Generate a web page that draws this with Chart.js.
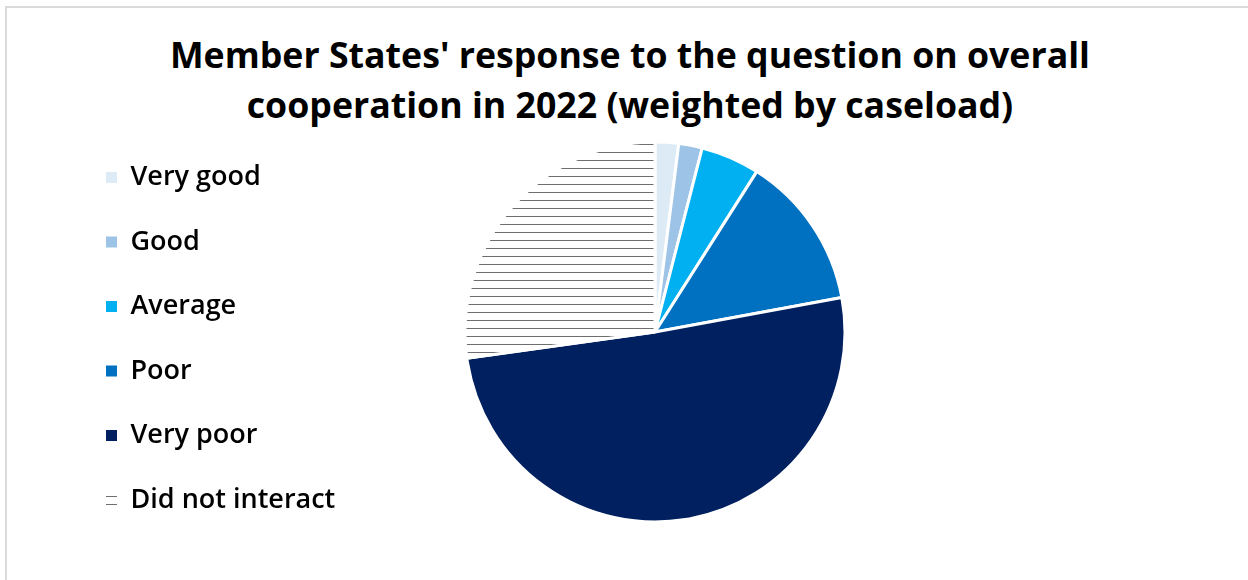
<!DOCTYPE html>
<html>
<head>
<meta charset="utf-8">
<script src="https://cdn.jsdelivr.net/npm/chart.js@4/dist/chart.umd.min.js"></script>
<style>
  html, body { margin: 0; padding: 0; background: #fff; }
  #wrap { position: relative; width: 1248px; height: 580px; overflow: hidden; }
  #frame { position: absolute; left: 5px; top: 6px; right: 0; bottom: 0; border-top: 2px solid #dadada; border-left: 2px solid #dadada; }
  #title { position: absolute; left: 12px; top: 28.7px; width: 1236px; margin: 0; text-align: center;
           font: bold 35.7px/50px "Open Sans", sans-serif; color: #000; }
  #pie { position: absolute; left: 0; top: 0; }
</style>
</head>
<body>
<div id="wrap">
  <div id="frame"></div>
  <h1 id="title"></h1>
  <canvas id="pie" width="1248" height="580"></canvas>
</div>
<script>
const titleLines = ["Member States' response to the question on overall", 'cooperation in 2022 (weighted by caseload)'];
const answers = ['Very good', 'Good', 'Average', 'Poor', 'Very poor', 'Did not interact'];
// share of caseload, %
const shares = [2.0, 2.0, 5.0, 13.1, 50.7, 27.2];
const sliceColours = ['#ddebf7', '#9dc3e6', '#00b0f0', '#0070c0', '#002060'];

document.getElementById('title').innerHTML = titleLines.join('<br>');

const canvas = document.getElementById('pie');
const ctx = canvas.getContext('2d');

// white tile with one grey line -> horizontal hatch for "Did not interact"
function hatch() {
  const tile = document.createElement('canvas');
  tile.width = 8;
  tile.height = 8;
  const g = tile.getContext('2d');
  g.fillStyle = '#ffffff';
  g.fillRect(0, 0, 8, 8);
  g.fillStyle = '#6e6e6e';
  g.fillRect(0, 0, 8, 1);
  return ctx.createPattern(tile, 'repeat');
}

const baseLabels = Chart.overrides.doughnut.plugins.legend.labels.generateLabels;
const padLeft = 68.5;
const pieCentreX = 655;

const chart = new Chart(ctx, {
  type: 'pie',
  data: {
    labels: answers,
    datasets: [{
      data: shares,
      backgroundColor: [...sliceColours, hatch()],
      borderColor: '#ffffff',
      borderWidth: 3,
      radius: 190,
    }],
  },
  options: {
    responsive: false,
    animation: false,
    layout: { padding: { top: 113, left: padLeft, right: 0, bottom: 29 } },
    plugins: {
      legend: {
        position: 'left',
        align: 'end',
        labels: {
          color: '#000',
          boxWidth: 11,
          boxHeight: 11,
          padding: 37.5,
          font: { family: '"Open Sans", sans-serif', size: 27, weight: '600' },
          generateLabels: (c) => baseLabels(c).map(l => ({ ...l, lineWidth: 0 })),
        },
      },
      tooltip: { enabled: false },
    },
  },
});

// centre the pie where the reference has it, whatever width the legend took
const padRight = padLeft + chart.legend.width + 1248 - 2 * pieCentreX;
chart.options.layout.padding = { top: 113, left: padLeft, right: padRight, bottom: 29 };
chart.update();
</script>
</body>
</html>
